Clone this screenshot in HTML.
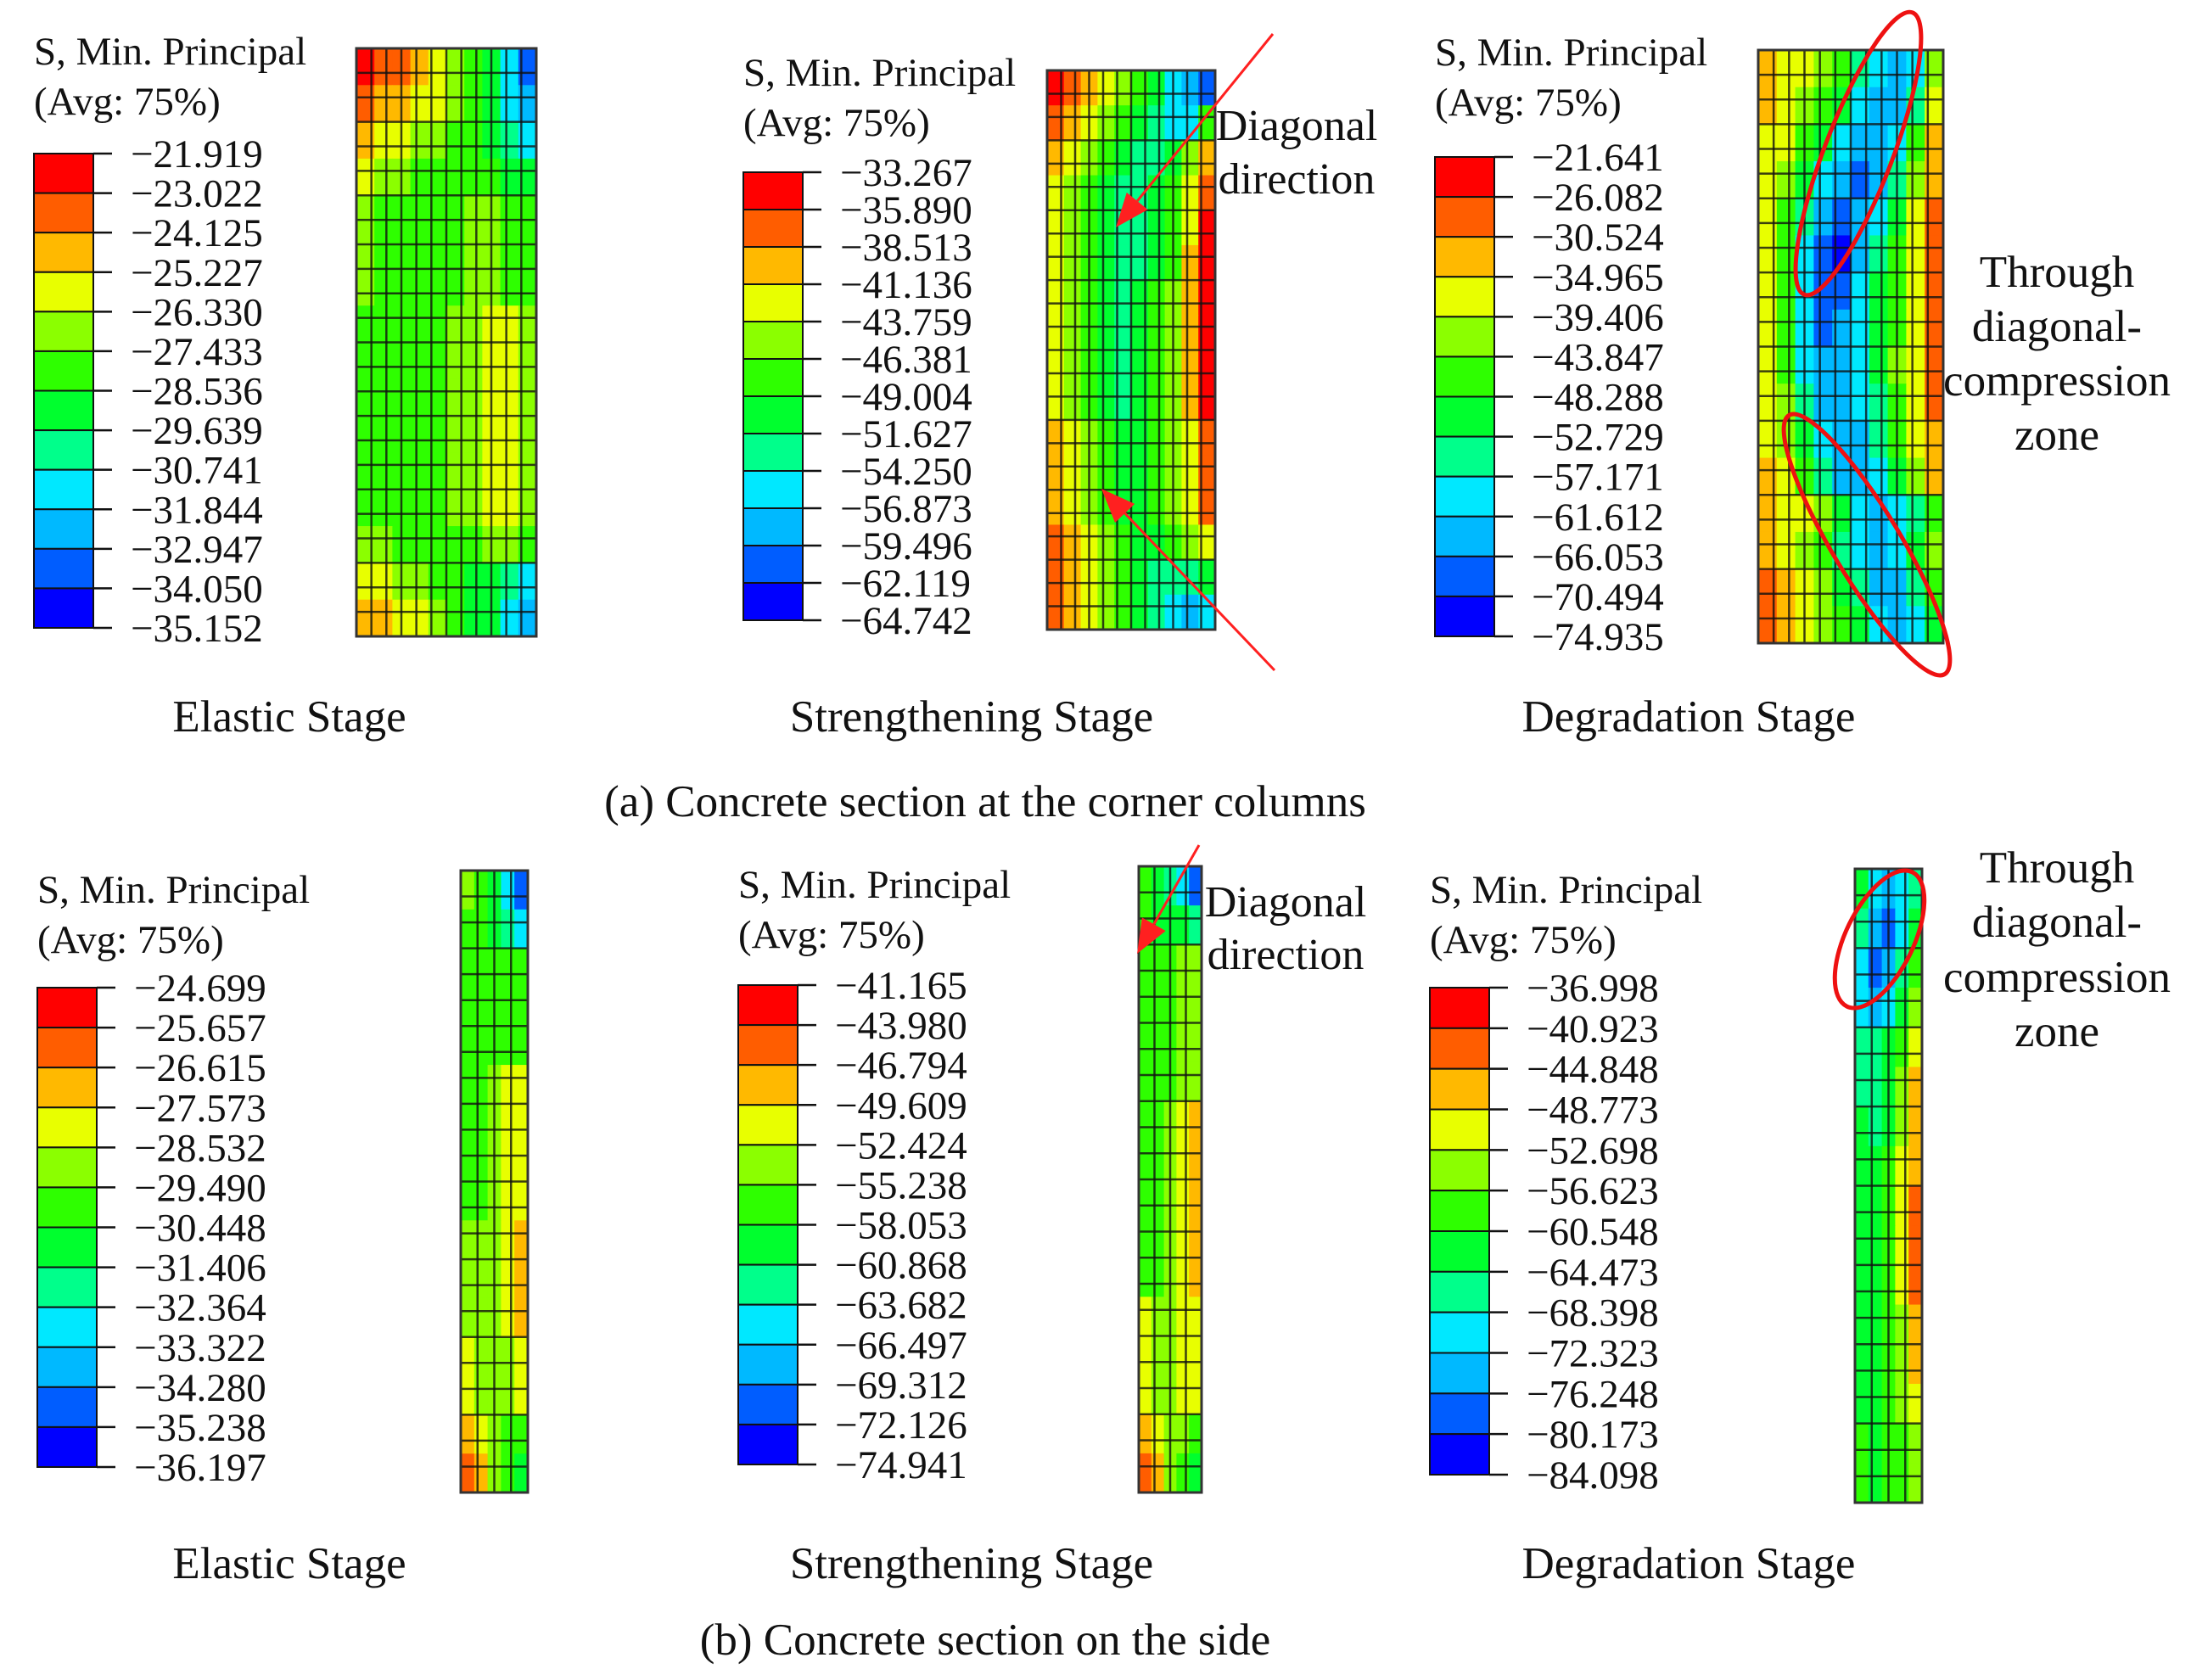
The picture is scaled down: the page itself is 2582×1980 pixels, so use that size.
<!DOCTYPE html>
<html><head><meta charset="utf-8">
<style>
html,body{margin:0;padding:0;background:#fff;}
svg{display:block;}
text{font-family:"Liberation Serif",serif;fill:#111;}
</style></head>
<body>
<svg id="fig" width="2582" height="1980" viewBox="0 0 2582 1980" xmlns="http://www.w3.org/2000/svg">
<g id="layer"></g>
</svg>
<script>
// colour levels (Abaqus rainbow, 12 bands)
const levelColors = ["#ff0000","#ff5d00","#ffb900","#e8ff00","#8bff00","#2eff00","#00ff2e","#00ff8b","#00e8ff","#00b9ff","#005dff","#0000ff"];
// legend tick labels
const legendA1 = ["-21.919","-23.022","-24.125","-25.227","-26.330","-27.433","-28.536","-29.639","-30.741","-31.844","-32.947","-34.050","-35.152"];
const legendA2 = ["-33.267","-35.890","-38.513","-41.136","-43.759","-46.381","-49.004","-51.627","-54.250","-56.873","-59.496","-62.119","-64.742"];
const legendA3 = ["-21.641","-26.082","-30.524","-34.965","-39.406","-43.847","-48.288","-52.729","-57.171","-61.612","-66.053","-70.494","-74.935"];
const legendB1 = ["-24.699","-25.657","-26.615","-27.573","-28.532","-29.490","-30.448","-31.406","-32.364","-33.322","-34.280","-35.238","-36.197"];
const legendB2 = ["-41.165","-43.980","-46.794","-49.609","-52.424","-55.238","-58.053","-60.868","-63.682","-66.497","-69.312","-72.126","-74.941"];
const legendB3 = ["-36.998","-40.923","-44.848","-48.773","-52.698","-56.623","-60.548","-64.473","-68.398","-72.323","-76.248","-80.173","-84.098"];
// mesh contour level fields (row strings, 0=red .. b=blue)
const fieldA1 = ["011234568a","1223345689","2334455678","3445555566","4555554455","4555554455","4555554455","5555544334","5555544334","5555544334","5555544334","5555544334","5555544334","4455555445","3344556678","2233456689"];
const fieldA2 = ["012345689a","1234567885","2345677642","3456776531","3456776530","3456776520","3456765420","3456765420","3456765420","3456765420","2345665431","2345665431","2345665431","1234566543","1234567776","1234567898"];
const fieldA3 = ["2334578984","2345689973","3356899852","34689a9742","3579a98631","358ab97531","358aa86531","358a986531","3589986431","3479987531","3468997532","2357998642","2334689875","2345789864","1234679975","1234568986"];
const fieldB1 = ["4568a","55678","55555","55555","55555","55433","55433","55433","55433","44432","44432","44432","34443","34443","23455","12456"];
const fieldB2 = ["5678a","56667","55544","55544","55544","55544","55432","55432","55432","55432","55432","34433","34433","34433","23445","12456"];
const fieldB3 = ["68987","79a86","8a975","89864","77653","77642","67642","66532","66531","66531","66531","66542","66542","66543","56554","56554"];

const svg=document.getElementById('layer');
const NS="http://www.w3.org/2000/svg";
function mk(tag,attrs,parent){const e=document.createElementNS(NS,tag);for(const k in attrs)e.setAttribute(k,attrs[k]);(parent||svg).appendChild(e);return e;}
function txt(s,x,y,size,parent,anchor){const t=mk('text',{x:x,y:y,'font-size':size,'text-anchor':anchor||'start'},parent);t.textContent=s;return t;}

function legend(name,labels,x,y0,y1,titleY){
  const g=mk('g',{});
  
  
  const t1=txt('S, Min. Principal',x,titleY,47,g);
  
  
  const t2=txt('(Avg: 75%)',x,titleY+59,47,g);
  
  
  const n=levelColors.length, h=(y1-y0)/n;
  levelColors.forEach((c,i)=>{
    const r=mk('rect',{x:x,y:y0+i*h,width:70,height:h,fill:c,stroke:'#111','stroke-width':2},g);
    
    
  });
  labels.forEach((l,i)=>{
    const yy=y0+i*h;
    mk('line',{x1:x+70,x2:x+92,y1:yy,y2:yy,stroke:'#111','stroke-width':2.5},g);
    const lt=txt(l.replace(/-/g,'\u2212'),x+114,yy+16,47,g);
    
    
  });
}
function mesh(name,field,x0,y0,x1,y1,gridCols,gridRows){
  const g=mk('g',{});
  
  
  const rows=field.length, cols=field[0].length;
  const cw=(x1-x0)/cols, rh=(y1-y0)/rows;
  field.forEach((row,r)=>{
    for(let c=0;c<cols;c++){
      const lv=parseInt(row[c],16);
      const cell=mk('rect',{x:x0+c*cw,y:y0+r*rh,width:cw+0.6,height:rh+0.6,fill:levelColors[lv]},g);
      
      
    }
  });
  for(let i=0;i<=gridCols;i++){const xx=x0+i*(x1-x0)/gridCols;mk('line',{x1:xx,x2:xx,y1:y0,y2:y1,stroke:'#111','stroke-width':2.5,opacity:0.8},g);}
  for(let j=0;j<=gridRows;j++){const yy=y0+j*(y1-y0)/gridRows;mk('line',{x1:x0,x2:x1,y1:yy,y2:yy,stroke:'#111','stroke-width':2.5,opacity:0.8},g);}
  mk('rect',{x:x0,y:y0,width:x1-x0,height:y1-y0,fill:'none',stroke:'#333','stroke-width':3},g);
}
function label(name,s,x,y,size){const t=txt(s,x,y,size||46,null,'middle');}
function arrow(name,xa,ya,xb,yb){
  const g=mk('g',{});
  
  
  const ang=Math.atan2(yb-ya,xb-xa), L=40, W=16;
  const bx=xb-L*Math.cos(ang), by=yb-L*Math.sin(ang);
  mk('line',{x1:xa,y1:ya,x2:bx,y2:by,stroke:'#ff2020','stroke-width':3},g);
  const px=-Math.sin(ang)*W, py=Math.cos(ang)*W;
  mk('polygon',{points:`${xb},${yb} ${bx+px},${by+py} ${bx-px},${by-py}`,fill:'#ff2020'},g);
}
function ellipse(name,cx,cy,rx,ry,rot){
  const e=mk('ellipse',{cx:cx,cy:cy,rx:rx,ry:ry,fill:'none',stroke:'#ee1111','stroke-width':5,transform:`rotate(${rot} ${cx} ${cy})`});
  
  
}

// (a) corner columns
legend('legend-a-elastic',legendA1,40,181,740,76);
mesh('mesh-a-elastic',fieldA1,420,57,632,750,12,24);
label('stage-label-a-elastic','Elastic Stage',341,862,53);

legend('legend-a-strengthening',legendA2,876,203,731,101);
mesh('mesh-a-strengthening',fieldA2,1234,83,1432,742,12,24);
arrow('arrow-a-upper',1500,40,1315,268);
arrow('arrow-a-lower',1502,790,1298,576);
label('annotation-a-diagonal-1','Diagonal',1528,165,52);
label('annotation-a-diagonal-2','direction',1528,228,52);
label('stage-label-a-strengthening','Strengthening Stage',1145,862,53);

legend('legend-a-degradation',legendA3,1691,185,750,77);
mesh('mesh-a-degradation',fieldA3,2072,59,2290,758,12,24);
ellipse('ellipse-a-upper',2190,181,40,178,21);
ellipse('ellipse-a-lower',2200,642,40,178,-31);
label('annotation-a-zone-1','Through',2424,338,53);
label('annotation-a-zone-2','diagonal-',2424,402,53);
label('annotation-a-zone-3','compression',2424,466,53);
label('annotation-a-zone-4','zone',2424,530,53);
label('stage-label-a-degradation','Degradation Stage',1990,862,53);

label('caption-a','(a) Concrete section at the corner columns',1161,962,53);

// (b) side columns
legend('legend-b-elastic',legendB1,44,1164,1729,1064);
mesh('mesh-b-elastic',fieldB1,543,1026,622,1759,4,24);
label('stage-label-b-elastic','Elastic Stage',341,1860,53);

legend('legend-b-strengthening',legendB2,870,1161,1726,1058);
mesh('mesh-b-strengthening',fieldB2,1342,1021,1416,1759,4,24);
arrow('arrow-b',1413,996,1340,1124);
label('annotation-b-diagonal-1','Diagonal',1515,1080,52);
label('annotation-b-diagonal-2','direction',1515,1142,52);
label('stage-label-b-strengthening','Strengthening Stage',1145,1860,53);

legend('legend-b-degradation',legendB3,1685,1164,1738,1064);
mesh('mesh-b-degradation',fieldB3,2186,1024,2265,1771,4,24);
ellipse('ellipse-b',2215,1107,40,88,26);
label('annotation-b-zone-1','Through',2424,1040,53);
label('annotation-b-zone-2','diagonal-',2424,1104,53);
label('annotation-b-zone-3','compression',2424,1169,53);
label('annotation-b-zone-4','zone',2424,1233,53);
label('stage-label-b-degradation','Degradation Stage',1990,1860,53);

label('caption-b','(b) Concrete section on the side',1161,1950,53);
</script>
</body></html>
